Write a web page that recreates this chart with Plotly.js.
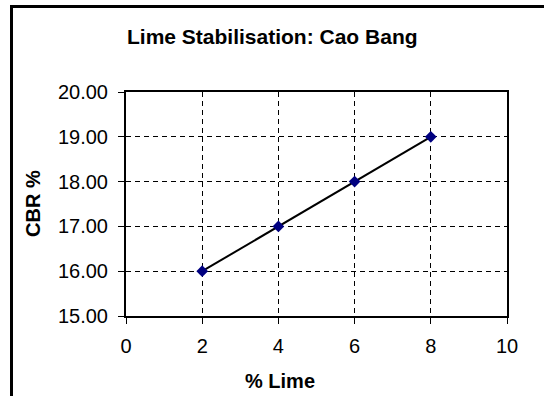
<!DOCTYPE html>
<html>
<head>
<meta charset="utf-8">
<script src="https://cdn.plot.ly/plotly-3.0.1.min.js"></script>
<style>
  html, body { margin: 0; padding: 0; background: #fff; }
  #wrap { position: relative; width: 544px; height: 396px; overflow: hidden; }
  #chart { position: absolute; left: 0; top: 0; width: 544px; height: 396px; }
  /* chart-area frame: only its left and top edges fall inside the page */
  #frame { position: absolute; left: 10px; top: 5px; width: 600px; height: 500px;
           border-left: 3px solid #000; border-top: 3px solid #000; pointer-events: none; }
</style>
</head>
<body>
<div id="wrap">
  <div id="chart"></div>
  <div id="frame"></div>
</div>
<script>
// Lime content (%) against measured CBR (%)
const limePercent = [2, 4, 6, 8];
const cbrPercent = [16, 17, 18, 19];

const xTickValues = [0, 2, 4, 6, 8, 10];
const yTickValues = [15, 16, 17, 18, 19, 20];

const chartTitle = 'Lime Stabilisation: Cao Bang';
const xTitle = '% Lime';
const yTitle = 'CBR %';

const fontFamily = 'Liberation Sans, Arial, sans-serif';

const trace = {
  x: limePercent,
  y: cbrPercent,
  type: 'scatter',
  mode: 'lines+markers',
  line: { color: '#000000', width: 2 },
  marker: { symbol: 'diamond', size: 9, color: '#000080', line: { width: 0 } },
  showlegend: false,
  hoverinfo: 'x+y'
};

const axisCommon = {
  showline: true,
  mirror: true,
  linecolor: '#000',
  linewidth: 2,
  ticks: 'outside',
  ticklen: 6,
  tickwidth: 1,
  tickcolor: '#000',
  showgrid: true,
  gridcolor: '#000',
  gridwidth: 1,
  griddash: '5px,4px',
  zeroline: false,
  tickfont: { family: fontFamily, size: 20, color: '#000' },
  fixedrange: true
};

const layout = {
  width: 544,
  height: 396,
  margin: { l: 126, r: 37, t: 92, b: 80, pad: 0 },
  paper_bgcolor: '#fff',
  plot_bgcolor: '#fff',
  font: { family: fontFamily, color: '#000' },
  xaxis: Object.assign({}, axisCommon, {
    range: [0, 10],
    tickmode: 'array',
    tickvals: xTickValues,
    ticktext: xTickValues.map(String),
    ticklabelstandoff: 5
  }),
  yaxis: Object.assign({}, axisCommon, {
    range: [15, 20],
    tickmode: 'array',
    tickvals: yTickValues,
    ticktext: yTickValues.map(v => v.toFixed(2)),
    ticklabelstandoff: 6
  }),
  annotations: [
    {
      text: '<b>' + chartTitle + '</b>',
      xref: 'paper', yref: 'paper',
      x: (272 - 126) / 381, y: (316 - 36) / 224,
      xanchor: 'center', yanchor: 'middle',
      showarrow: false,
      font: { family: fontFamily, size: 21, color: '#000' }
    },
    {
      text: '<b>' + xTitle + '</b>',
      xref: 'paper', yref: 'paper',
      x: (280 - 126) / 381, y: (316 - 381) / 224,
      xanchor: 'center', yanchor: 'middle',
      showarrow: false,
      font: { family: fontFamily, size: 20, color: '#000' }
    },
    {
      text: '<b>' + yTitle + '</b>',
      xref: 'paper', yref: 'paper',
      x: (33 - 126) / 381, y: (316 - 204) / 224,
      xanchor: 'center', yanchor: 'middle',
      textangle: -90,
      showarrow: false,
      font: { family: fontFamily, size: 20, color: '#000' }
    }
  ]
};

Plotly.newPlot('chart', [trace], layout, { displayModeBar: false, staticPlot: true });
</script>
</body>
</html>
